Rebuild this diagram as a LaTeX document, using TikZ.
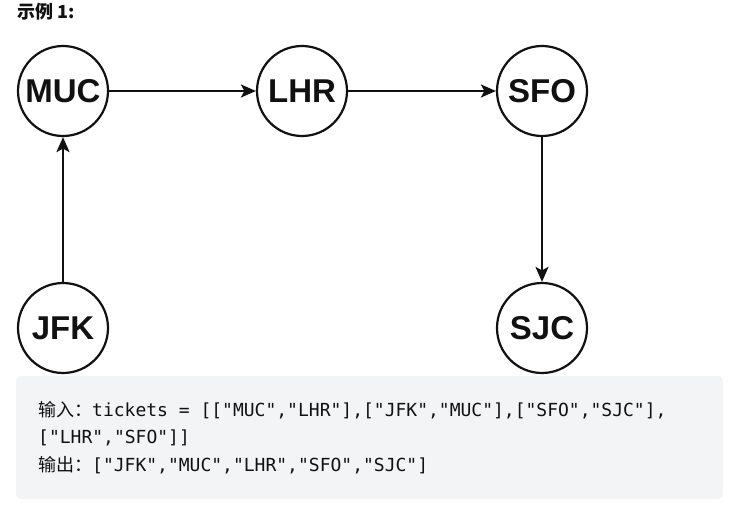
\documentclass[tikz,border=0pt]{standalone}
\usepackage{fontspec}
\setmainfont{Liberation Sans}
\setmonofont{DejaVu Sans Mono}
\newfontfamily\cjk{Noto Sans CJK SC}
\usetikzlibrary{arrows.meta}
\definecolor{ink}{HTML}{111111}
\definecolor{codebg}{HTML}{F3F4F5}
\begin{document}
\begin{tikzpicture}[x=1pt,y=-1pt,
  city/.style={circle,draw=ink,line width=2.2pt,minimum size=90pt,inner sep=0pt,
    font=\fontsize{33}{36}\selectfont\bfseries,text=ink},
  link/.style={draw=ink,line width=2.2pt,-{Stealth[length=15pt,width=13pt,inset=3.5pt]}},
  codeline/.style={anchor=base west,inner sep=0pt,text=ink,
    font=\fontsize{18}{20}\selectfont}]
\useasboundingbox (0,0) rectangle (740,519);
\node[anchor=base west,inner sep=0pt,text=ink,font=\cjk\fontsize{18}{20}\selectfont\bfseries] (title) at (17,19) {示例\hspace{4pt}1:};
\node[city] (MUC) at (63,91) {MUC};
\node[city] (LHR) at (302,91) {LHR};
\node[city] (SFO) at (542,91) {SFO};
\node[city] (JFK) at (63,328) {JFK};
\node[city] (SJC) at (542,328) {SJC};
\draw[link] (MUC) -- (LHR);
\draw[link] (LHR) -- (SFO);
\draw[link] (SFO) -- (SJC);
\draw[link] (JFK) -- (MUC);
\path[fill=codebg,rounded corners=5pt] (16,376) rectangle (723,499);
\node[codeline] (l1) at (38,416) {{\cjk 输入：}\ttfamily tickets = [["MUC","LHR"],["JFK","MUC"],["SFO","SJC"],};
\node[codeline] (l2) at (38,443) {\ttfamily ["LHR","SFO"]]};
\node[codeline] (l3) at (38,471) {{\cjk 输出：}\ttfamily ["JFK","MUC","LHR","SFO","SJC"]};
\end{tikzpicture}
\end{document}
